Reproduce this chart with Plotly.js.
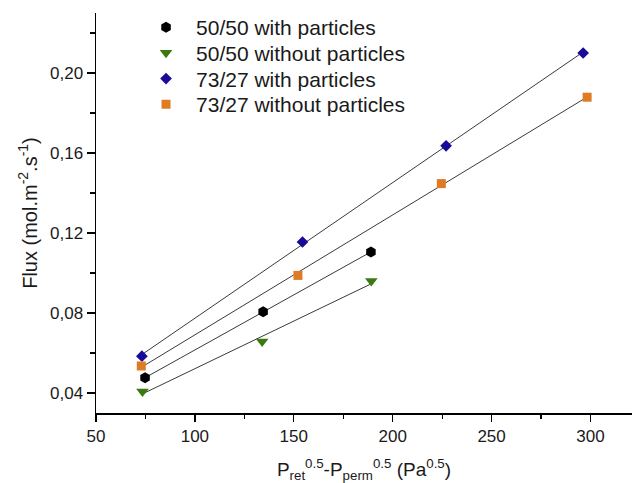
<!DOCTYPE html>
<html>
<head>
<meta charset="utf-8">
<script src="https://cdn.plot.ly/plotly-3.0.1.min.js"></script>
<style>html,body{margin:0;padding:0;background:#fff;}#chart{width:632px;height:483px;}</style>
</head>
<body>
<div id="chart"></div>
<script>
const seriesNames = ["50/50 with particles", "50/50 without particles", "73/27 with particles", "73/27 without particles"];
const x5050with = [74.8, 134.5, 189.0];
const y5050with = [0.0476, 0.0806, 0.1105];
const x5050without = [73.5, 134.0, 189.2];
const y5050without = [0.0408, 0.0657, 0.0960];
const x7327with = [73.2, 154.4, 227.0, 296.3];
const y7327with = [0.0584, 0.1155, 0.1636, 0.2100];
const x7327without = [72.9, 152.1, 224.6, 298.3];
const y7327without = [0.0535, 0.0988, 0.1447, 0.1879];

const colors = ["#000000", "#3b7a12", "#1a0a98", "#e07b25"];
const symbols = ["hexagon", "triangle-down", "diamond", "square"];
const sizes = [11, 11, 9, 9];

const xs = [x5050with, x5050without, x7327with, x7327without];
const ys = [y5050with, y5050without, y7327with, y7327without];

function fit(x, y) {
  const n = x.length;
  const mx = x.reduce((a, b) => a + b, 0) / n;
  const my = y.reduce((a, b) => a + b, 0) / n;
  let sxy = 0, sxx = 0;
  for (let i = 0; i < n; i++) { sxy += (x[i] - mx) * (y[i] - my); sxx += (x[i] - mx) * (x[i] - mx); }
  const b = sxy / sxx;
  return [b, my - b * mx];
}

const traces = [];
for (let i = 0; i < 4; i++) {
  const [b, a] = fit(xs[i], ys[i]);
  const x0 = Math.min(...xs[i]), x1 = Math.max(...xs[i]);
  traces.push({
    x: [x0, x1], y: [a + b * x0, a + b * x1], mode: 'lines', showlegend: false,
    line: {color: '#3a3a3a', width: 1}, hoverinfo: 'skip'
  });
}
for (let i = 0; i < 4; i++) {
  traces.push({
    x: xs[i], y: ys[i], mode: 'markers', name: seriesNames[i],
    marker: {color: colors[i], symbol: symbols[i], size: sizes[i], line: {width: 0}}
  });
}

const layout = {
  width: 632, height: 483,
  margin: {l: 96, r: 0, t: 13, b: 70},
  paper_bgcolor: '#fff', plot_bgcolor: '#fff',
  separators: ',.',
  font: {family: 'Liberation Sans, Arial, sans-serif', color: '#1a1a1a', size: 17},
  showlegend: true,
  legend: {x: 0.112, y: 1.0, xanchor: 'left', yanchor: 'top', bgcolor: 'rgba(0,0,0,0)',
           font: {size: 21, color: '#1a1a1a'}, tracegroupgap: 0},
  xaxis: {
    range: [50, 321], showgrid: false, zeroline: false, showline: true, linecolor: '#000', linewidth: 1.5,
    ticks: 'outside', ticklen: 7, tickwidth: 1.3, tickcolor: '#000', dtick: 50, tick0: 50,
    minor: {ticks: 'outside', dtick: 25, ticklen: 4, tickwidth: 1.2, tickcolor: '#000', showgrid: false},
    tickfont: {size: 17},
    title: {text: 'P<sub>ret</sub><sup>0.5</sup>-P<sub>perm</sub><sup>0.5</sup> (Pa<sup>0.5</sup>)', font: {size: 19}, standoff: 25}
  },
  yaxis: {
    range: [0.03, 0.23], showgrid: false, zeroline: false, showline: true, linecolor: '#000', linewidth: 1.5,
    ticks: 'outside', ticklen: 8, tickwidth: 1.3, tickcolor: '#000', dtick: 0.04, tick0: 0.04,
    tickformat: '.2f',
    minor: {ticks: 'outside', dtick: 0.02, ticklen: 5, tickwidth: 1.2, tickcolor: '#000', showgrid: false},
    tickfont: {size: 17},
    title: {text: 'Flux (mol.m<sup>-2</sup>.s<sup>-1</sup>)', font: {size: 20}, standoff: 0}
  }
};

Plotly.newPlot('chart', traces, layout, {displayModeBar: false, staticPlot: true}).then(function (gd) {
  // tighten legend row spacing and widen symbol-text gap to match the reference
  const items = gd.querySelectorAll('.legend .traces');
  const rowGap = 25.7, shiftY = -6;
  let first = null;
  items.forEach(function (el, i) {
    const m = /translate\(([-\d.]+),\s*([-\d.]+)\)/.exec(el.getAttribute('transform') || '');
    const tx = m ? parseFloat(m[1]) : 0;
    const ty = m ? parseFloat(m[2]) : 0;
    if (first === null) first = ty;
    el.setAttribute('transform', 'translate(' + tx + ',' + (first + shiftY + i * rowGap) + ')');
    const sym = el.querySelector('.legendsymbols');
    if (sym) sym.setAttribute('transform', 'translate(-10,0)');
  });
  // nudge the y-axis title a little further left, as in the reference
  const yt = gd.querySelector('.ytitle');
  if (yt) yt.setAttribute('transform', 'translate(-7,0) ' + (yt.getAttribute('transform') || ''));
});
</script>
</body>
</html>
